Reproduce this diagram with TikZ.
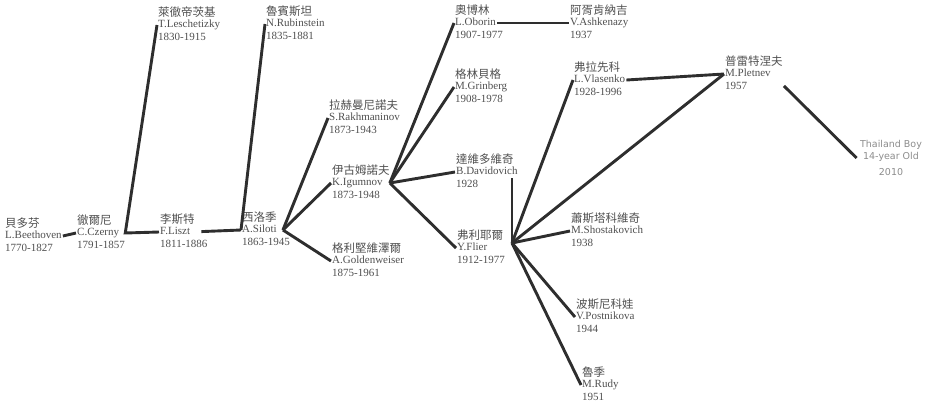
\documentclass[tikz,border=0pt]{standalone}
\usepackage{fontspec}
\setmainfont{Liberation Serif}
\newfontfamily\cjk{Noto Sans CJK TC}
\newfontfamily\plainsans{DejaVu Sans}
\usetikzlibrary{positioning}
\definecolor{ink}{HTML}{2E2E2E}
\definecolor{txt}{HTML}{4F4F4F}
\definecolor{faint}{HTML}{8C8C8C}
\tikzset{
  nm/.style={anchor=west,inner sep=1pt,text height=8pt,text depth=2.5pt,txt,
             font=\fontsize{11}{13}\selectfont},
  zh/.style={anchor=south west,inner sep=1pt,txt,font=\cjk\fontsize{11.5}{13}\selectfont},
  yr/.style={anchor=north west,inner sep=1pt,text height=8pt,text depth=0pt,txt,
             font=\fontsize{11}{13}\selectfont},
  link/.style={draw=ink,line width=2.9pt},
}
\begin{document}
\begin{tikzpicture}[x=1pt,y=-1pt]
  \useasboundingbox (0,0) rectangle (927,413);
  % pupils: name / left x / y of latin line / chinese / latin / years
  \foreach \n/\x/\y/\zh/\en/\yr in {%
    beethoven/4/236/貝多芬/L.Beethoven/1770-1827,
    czerny/76/233/徹爾尼/C.Czerny/1791-1857,
    leschetizky/157/25/萊徹帝茨基/T.Leschetizky/1830-1915,
    liszt/159/232/李斯特/F.Liszt/1811-1886,
    rubinstein/265/24/魯賓斯坦/N.Rubinstein/1835-1881,
    siloti/241/230/西洛季/A.Siloti/1863-1945,
    rakhmaninov/328/118/拉赫曼尼諾夫/S.Rakhmaninov/1873-1943,
    igumnov/331/183/伊古姆諾夫/K.Igumnov/1873-1948,
    goldenweiser/331/261/格利堅維澤爾/A.Goldenweiser/1875-1961,
    oborin/454/23/奧博林/L.Oborin/1907-1977,
    grinberg/454/87/格林貝格/M.Grinberg/1908-1978,
    davidovich/455/172/達維多維奇/B.Davidovich/1928,
    flier/456/248/弗利耶爾/Y.Flier/1912-1977,
    ashkenazy/569/23/阿胥肯納吉/V.Ashkenazy/1937,
    vlasenko/573/80/弗拉先科/L.Vlasenko/1928-1996,
    pletnev/724/74/普雷特涅夫/M.Pletnev/1957,
    shostakovich/570/231/蕭斯塔科維奇/M.Shostakovich/1938,
    postnikova/575/317/波斯尼科娃/V.Postnikova/1944,
    rudy/581/385/魯季/M.Rudy/1951}{
    \node[nm] (\n) at (\x,\y) {\en};
    \node[zh] at (\n.north west) {\zh};
    \node[yr] at (\n.south west) {\yr};}
  \node[faint,align=center,font=\plainsans\fontsize{9.5}{12}\selectfont] (boy) at (891,158)
    {Thailand Boy\\14-year Old\\[4pt]2010};
  % lines of teaching
  \draw[link] (beethoven.east) -- (czerny.west);
  \draw[link] (leschetizky.west) -- ([xshift=5pt]czerny.east) -- (liszt.west);
  \draw[link,shorten <=10pt] (liszt.east) -- (siloti.west);
  \draw[link] (siloti.west) -- (rubinstein.west);
  \foreach \t in {rakhmaninov,igumnov,goldenweiser}
    \draw[link] ([xshift=5pt]siloti.east) -- (\t.west);
  \foreach \t in {oborin,grinberg,davidovich,flier}
    \draw[link] ([xshift=6pt]igumnov.east) -- (\t.west);
  \draw[link] (oborin.east) -- (ashkenazy.west);
  \coordinate (flierhub) at (512,243);
  \draw[link] (flierhub) -- (flierhub |- davidovich.south);
  \foreach \t in {vlasenko,pletnev,shostakovich,postnikova,rudy}
    \draw[link] (flierhub) -- (\t.west);
  \draw[link] (vlasenko.east) -- (pletnev.west);
  \draw[link,shorten <=17pt] (pletnev.east) -- (boy.west);
\end{tikzpicture}
\end{document}
